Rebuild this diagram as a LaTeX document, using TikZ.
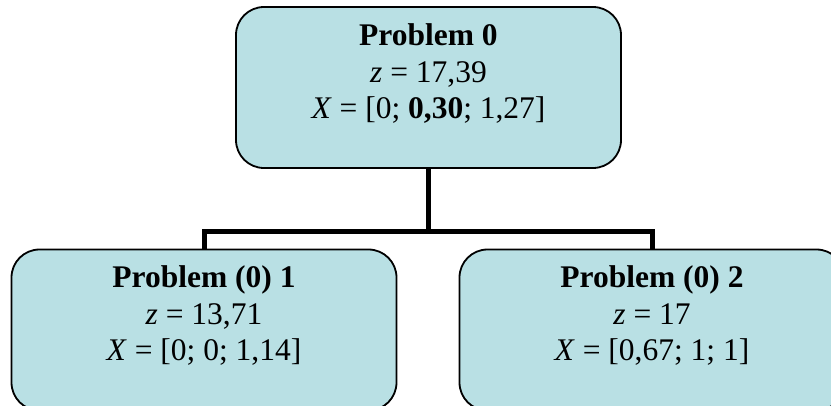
\documentclass[tikz,border=0pt]{standalone}
\usepackage{fontspec}
\setmainfont{Liberation Serif}
\definecolor{boxfill}{HTML}{B9E0E4}
\begin{document}
\begin{tikzpicture}[x=1pt,y=-1pt,
  box/.style={draw=black, line width=1.8pt, fill=boxfill, rounded corners=28pt,
              minimum width=385pt, minimum height=161pt, inner sep=0pt},
  txt/.style={font=\fontsize{31.5}{36.5}\selectfont, align=center, anchor=north, inner sep=0pt},
  link/.style={line width=5pt, line join=miter}]
\useasboundingbox (0,0) rectangle (831,405);
\clip (0,0) rectangle (831,405);
\coordinate (j) at (428.5,231);
\node[box] (p0) at (428.5,87.5) {};
\node[box] (p1) at (204,330) {};
\node[box] (p2) at (652,330) {};
\draw[link] (p0.south) -- (j);
\draw[link] (p1.north) -- (p1.north |- j) -- (p2.north |- j) -- (p2.north);
\node[txt] (t0) at (428.5,23.5) {\textbf{Problem 0}\\ \textit{z} = 17,39\\ \textit{X} = [0; \textbf{0,30}; 1,27]};
\node[txt] (t1) at (204,265.5) {\textbf{Problem (0) 1}\\ \textit{z} = 13,71\\ \textit{X} = [0; 0; 1,14]};
\node[txt] (t2) at (652,265.5) {\textbf{Problem (0) 2}\\ \textit{z} = 17\\ \textit{X} = [0,67; 1; 1]};
\end{tikzpicture}
\end{document}
